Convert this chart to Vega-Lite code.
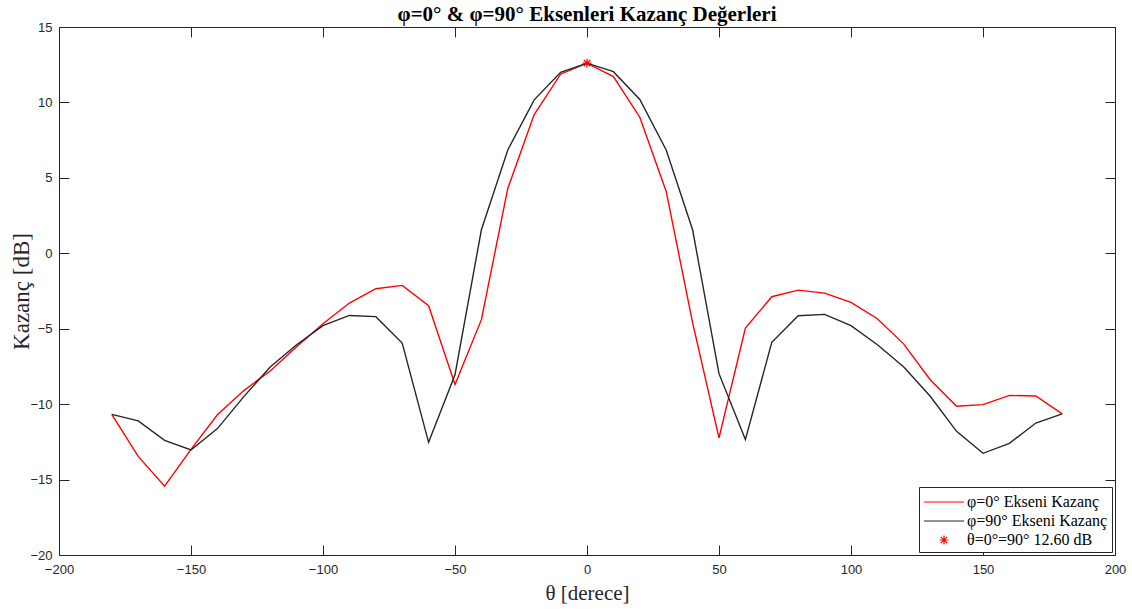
{
  "$schema": "https://vega.github.io/schema/vega-lite/v6.json",
  "width": 1056,
  "height": 528,
  "autosize": {"type": "none"},
  "padding": {"left": 59, "top": 27, "right": 17, "bottom": 54},
  "background": "white",
  "title": {
    "text": "φ=0° & φ=90° Eksenleri Kazanç Değerleri",
    "font": "Liberation Serif",
    "fontSize": 21,
    "fontWeight": "bold",
    "color": "#000000",
    "offset": -4,
    "anchor": "middle"
  },
  "config": {
    "view": {"stroke": "#262626", "strokeWidth": 1},
    "axis": {
      "grid": false,
      "domain": false,
      "tickColor": "#262626",
      "tickSize": -10,
      "labelFlush": false,
      "labelFont": "Liberation Sans",
      "labelFontSize": 13,
      "labelColor": "#262626",
      "titleFont": "Liberation Serif",
      "titleFontWeight": "normal",
      "titleColor": "#262626"
    },
    "legend": {
      "orient": "bottom-right",
      "offset": 3,
      "strokeColor": "#262626",
      "fillColor": "white",
      "padding": 4,
      "labelFont": "Liberation Serif",
      "labelFontSize": 16,
      "labelColor": "#000000",
      "symbolSize": 400,
      "symbolOffset": 10,
      "symbolStrokeWidth": 1.2,
      "labelOffset": 12,
      "rowPadding": 0,
      "title": null
    }
  },
  "data": {
    "values": [
      {"theta": -180, "gain": -10.68, "series": "φ=0° Ekseni Kazanç"},
      {"theta": -170, "gain": -13.46, "series": "φ=0° Ekseni Kazanç"},
      {"theta": -160, "gain": -15.44, "series": "φ=0° Ekseni Kazanç"},
      {"theta": -150, "gain": -13.0, "series": "φ=0° Ekseni Kazanç"},
      {"theta": -140, "gain": -10.7, "series": "φ=0° Ekseni Kazanç"},
      {"theta": -130, "gain": -9.1, "series": "φ=0° Ekseni Kazanç"},
      {"theta": -120, "gain": -7.8, "series": "φ=0° Ekseni Kazanç"},
      {"theta": -110, "gain": -6.2, "series": "φ=0° Ekseni Kazanç"},
      {"theta": -100, "gain": -4.67, "series": "φ=0° Ekseni Kazanç"},
      {"theta": -90, "gain": -3.3, "series": "φ=0° Ekseni Kazanç"},
      {"theta": -80, "gain": -2.35, "series": "φ=0° Ekseni Kazanç"},
      {"theta": -70, "gain": -2.13, "series": "φ=0° Ekseni Kazanç"},
      {"theta": -60, "gain": -3.48, "series": "φ=0° Ekseni Kazanç"},
      {"theta": -50, "gain": -8.7, "series": "φ=0° Ekseni Kazanç"},
      {"theta": -40, "gain": -4.4, "series": "φ=0° Ekseni Kazanç"},
      {"theta": -30, "gain": 4.3, "series": "φ=0° Ekseni Kazanç"},
      {"theta": -20, "gain": 9.2, "series": "φ=0° Ekseni Kazanç"},
      {"theta": -10, "gain": 11.87, "series": "φ=0° Ekseni Kazanç"},
      {"theta": 0, "gain": 12.6, "series": "φ=0° Ekseni Kazanç"},
      {"theta": 10, "gain": 11.71, "series": "φ=0° Ekseni Kazanç"},
      {"theta": 20, "gain": 9.02, "series": "φ=0° Ekseni Kazanç"},
      {"theta": 30, "gain": 4.1, "series": "φ=0° Ekseni Kazanç"},
      {"theta": 40, "gain": -4.6, "series": "φ=0° Ekseni Kazanç"},
      {"theta": 50, "gain": -12.24, "series": "φ=0° Ekseni Kazanç"},
      {"theta": 60, "gain": -4.96, "series": "φ=0° Ekseni Kazanç"},
      {"theta": 70, "gain": -2.88, "series": "φ=0° Ekseni Kazanç"},
      {"theta": 80, "gain": -2.44, "series": "φ=0° Ekseni Kazanç"},
      {"theta": 90, "gain": -2.64, "series": "φ=0° Ekseni Kazanç"},
      {"theta": 100, "gain": -3.26, "series": "φ=0° Ekseni Kazanç"},
      {"theta": 110, "gain": -4.34, "series": "φ=0° Ekseni Kazanç"},
      {"theta": 120, "gain": -6.02, "series": "φ=0° Ekseni Kazanç"},
      {"theta": 130, "gain": -8.38, "series": "φ=0° Ekseni Kazanç"},
      {"theta": 140, "gain": -10.14, "series": "φ=0° Ekseni Kazanç"},
      {"theta": 150, "gain": -10.03, "series": "φ=0° Ekseni Kazanç"},
      {"theta": 160, "gain": -9.42, "series": "φ=0° Ekseni Kazanç"},
      {"theta": 170, "gain": -9.46, "series": "φ=0° Ekseni Kazanç"},
      {"theta": 180, "gain": -10.65, "series": "φ=0° Ekseni Kazanç"},
      {"theta": -180, "gain": -10.68, "series": "φ=90° Ekseni Kazanç"},
      {"theta": -170, "gain": -11.11, "series": "φ=90° Ekseni Kazanç"},
      {"theta": -160, "gain": -12.4, "series": "φ=90° Ekseni Kazanç"},
      {"theta": -150, "gain": -13.04, "series": "φ=90° Ekseni Kazanç"},
      {"theta": -140, "gain": -11.62, "series": "φ=90° Ekseni Kazanç"},
      {"theta": -130, "gain": -9.5, "series": "φ=90° Ekseni Kazanç"},
      {"theta": -120, "gain": -7.54, "series": "φ=90° Ekseni Kazanç"},
      {"theta": -110, "gain": -6.06, "series": "φ=90° Ekseni Kazanç"},
      {"theta": -100, "gain": -4.8, "series": "φ=90° Ekseni Kazanç"},
      {"theta": -90, "gain": -4.12, "series": "φ=90° Ekseni Kazanç"},
      {"theta": -80, "gain": -4.2, "series": "φ=90° Ekseni Kazanç"},
      {"theta": -70, "gain": -5.95, "series": "φ=90° Ekseni Kazanç"},
      {"theta": -60, "gain": -12.53, "series": "φ=90° Ekseni Kazanç"},
      {"theta": -50, "gain": -8.05, "series": "φ=90° Ekseni Kazanç"},
      {"theta": -40, "gain": 1.56, "series": "φ=90° Ekseni Kazanç"},
      {"theta": -30, "gain": 6.85, "series": "φ=90° Ekseni Kazanç"},
      {"theta": -20, "gain": 10.17, "series": "φ=90° Ekseni Kazanç"},
      {"theta": -10, "gain": 12.0, "series": "φ=90° Ekseni Kazanç"},
      {"theta": 0, "gain": 12.6, "series": "φ=90° Ekseni Kazanç"},
      {"theta": 10, "gain": 12.04, "series": "φ=90° Ekseni Kazanç"},
      {"theta": 20, "gain": 10.2, "series": "φ=90° Ekseni Kazanç"},
      {"theta": 30, "gain": 6.85, "series": "φ=90° Ekseni Kazanç"},
      {"theta": 40, "gain": 1.56, "series": "φ=90° Ekseni Kazanç"},
      {"theta": 50, "gain": -7.98, "series": "φ=90° Ekseni Kazanç"},
      {"theta": 60, "gain": -12.35, "series": "φ=90° Ekseni Kazanç"},
      {"theta": 70, "gain": -5.9, "series": "φ=90° Ekseni Kazanç"},
      {"theta": 80, "gain": -4.14, "series": "φ=90° Ekseni Kazanç"},
      {"theta": 90, "gain": -4.05, "series": "φ=90° Ekseni Kazanç"},
      {"theta": 100, "gain": -4.8, "series": "φ=90° Ekseni Kazanç"},
      {"theta": 110, "gain": -6.06, "series": "φ=90° Ekseni Kazanç"},
      {"theta": 120, "gain": -7.54, "series": "φ=90° Ekseni Kazanç"},
      {"theta": 130, "gain": -9.48, "series": "φ=90° Ekseni Kazanç"},
      {"theta": 140, "gain": -11.8, "series": "φ=90° Ekseni Kazanç"},
      {"theta": 150, "gain": -13.26, "series": "φ=90° Ekseni Kazanç"},
      {"theta": 160, "gain": -12.6, "series": "φ=90° Ekseni Kazanç"},
      {"theta": 170, "gain": -11.25, "series": "φ=90° Ekseni Kazanç"},
      {"theta": 180, "gain": -10.65, "series": "φ=90° Ekseni Kazanç"},
      {"theta": 0, "gain": 12.6, "series": "θ=0°=90° 12.60 dB"}
    ]
  },
  "layer": [
    {
      "layer": [
        {
          "transform": [{"filter": "datum.series !== 'θ=0°=90° 12.60 dB'"}],
          "mark": {"type": "line", "strokeWidth": 1.4, "clip": false},
          "encoding": {
            "x": {
              "field": "theta", "type": "quantitative",
              "scale": {"domain": [-200, 200], "nice": false, "zero": false},
              "axis": {"values": [-200, -150, -100, -50, 0, 50, 100, 150, 200], "title": "θ [derece]", "titleFontSize": 21, "labelPadding": 18, "titlePadding": 6}
            },
            "y": {
              "field": "gain", "type": "quantitative",
              "scale": {"domain": [-20, 15], "nice": false, "zero": false},
              "axis": {"values": [-20, -15, -10, -5, 0, 5, 10, 15], "title": "Kazanç [dB]", "titleFontSize": 23, "labelPadding": 17, "titlePadding": -4}
            },
            "color": {
              "field": "series", "type": "nominal",
              "scale": {
                "domain": ["φ=0° Ekseni Kazanç", "φ=90° Ekseni Kazanç", "θ=0°=90° 12.60 dB"],
                "range": ["#ff0000", "#262626", "#ff0000"]
              },
              "legend": {"title": null}
            },
            "detail": {"field": "series"}
          }
        },
        {
          "transform": [{"filter": "datum.series === 'θ=0°=90° 12.60 dB'"}],
          "mark": {"type": "point", "filled": false, "size": 400, "strokeWidth": 1.2, "opacity": 1},
          "encoding": {
            "x": {"field": "theta", "type": "quantitative"},
            "y": {"field": "gain", "type": "quantitative"},
            "color": {"field": "series", "type": "nominal"},
            "shape": {
              "field": "series", "type": "nominal",
              "scale": {
                "domain": ["φ=0° Ekseni Kazanç", "φ=90° Ekseni Kazanç", "θ=0°=90° 12.60 dB"],
                "range": ["M-2,0L2,0", "M-2,0L2,0", "M0,-0.45L0,0.45M-0.45,0L0.45,0M-0.32,-0.32L0.32,0.32M-0.32,0.32L0.32,-0.32"]
              },
              "legend": {"title": null}
            }
          }
        }
      ]
    },
    {
      "mark": {"type": "line", "opacity": 0},
      "encoding": {
        "x": {
          "field": "theta", "type": "quantitative",
          "scale": {"domain": [-200, 200], "nice": false, "zero": false},
          "axis": {"orient": "top", "values": [-200, -150, -100, -50, 0, 50, 100, 150, 200], "labels": false, "title": null}
        },
        "y": {
          "field": "gain", "type": "quantitative",
          "scale": {"domain": [-20, 15], "nice": false, "zero": false},
          "axis": {"orient": "right", "values": [-20, -15, -10, -5, 0, 5, 10, 15], "labels": false, "title": null}
        },
        "detail": {"field": "series"}
      }
    }
  ],
  "resolve": {"scale": {"x": "independent", "y": "independent"}}
}
